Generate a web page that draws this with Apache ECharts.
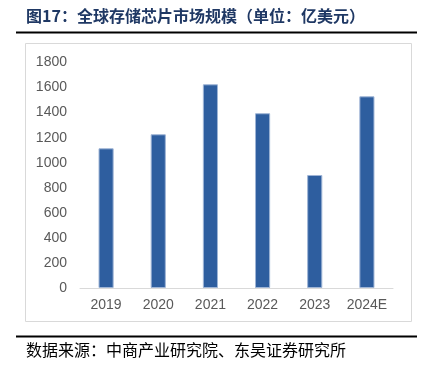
<!DOCTYPE html>
<html><head><meta charset="utf-8">
<script src="https://cdn.jsdelivr.net/npm/echarts@6/dist/echarts.min.js"></script>
<style>html,body{margin:0;padding:0;background:#fff}#c{width:422px;height:367px}</style>
</head><body><div id="c"></div>
<script>
const categories = ['2019','2020','2021','2022','2023','2024E'];
const values = [1115, 1227, 1626, 1395, 902, 1530];
const yTicks = [0, 200, 400, 600, 800, 1000, 1200, 1400, 1600, 1800];
const titleText = '图17：全球存储芯片市场规模（单位：亿美元）';
const sourceText = '数据来源：中商产业研究院、东吴证券研究所';

const chart = echarts.init(document.getElementById('c'));
chart.setOption({
  animation: false,
  grid: {left: 80, right: 29, top: 62.5, bottom: 79},
  xAxis: {
    type: 'category', data: categories,
    axisLine: {lineStyle: {color: '#d9d9d9', width: 1}},
    axisTick: {show: false},
    axisLabel: {color: '#595959', fontSize: 14, fontFamily: 'Liberation Sans, Arial', margin: 10, interval: 0}
  },
  yAxis: {
    type: 'value', min: yTicks[0], max: yTicks[yTicks.length-1], interval: 200,
    axisLine: {show: false}, axisTick: {show: false}, splitLine: {show: false},
    axisLabel: {color: '#595959', fontSize: 14, fontFamily: 'Liberation Sans, Arial', margin: 13,
      formatter: v => String(v)}
  },
  series: [{
    type: 'bar', data: values, barWidth: '29%',
    itemStyle: {color: '#2e5e9f', borderColor: '#9fb5d6', borderWidth: 1}
  }],
  graphic: [
    {type: 'text', left: 26, top: 8, style: {text: titleText, fill: '#1f3864', font: 'bold 16px "Noto Sans CJK SC"'}},
    {type: 'line', shape: {x1: 16, y1: 32.5, x2: 417, y2: 32.5}, style: {stroke: '#000', lineWidth: 2}},
    {type: 'rect', shape: {x: 25.5, y: 43.5, width: 386, height: 278}, style: {fill: 'none', stroke: '#d9d9d9', lineWidth: 1}},
    {type: 'line', shape: {x1: 16, y1: 336.5, x2: 417, y2: 336.5}, style: {stroke: '#000', lineWidth: 2}},
    {type: 'text', left: 26, top: 342, style: {text: sourceText, fill: '#000', font: '16px "Noto Sans CJK SC"'}}
  ]
});
</script></body></html>
